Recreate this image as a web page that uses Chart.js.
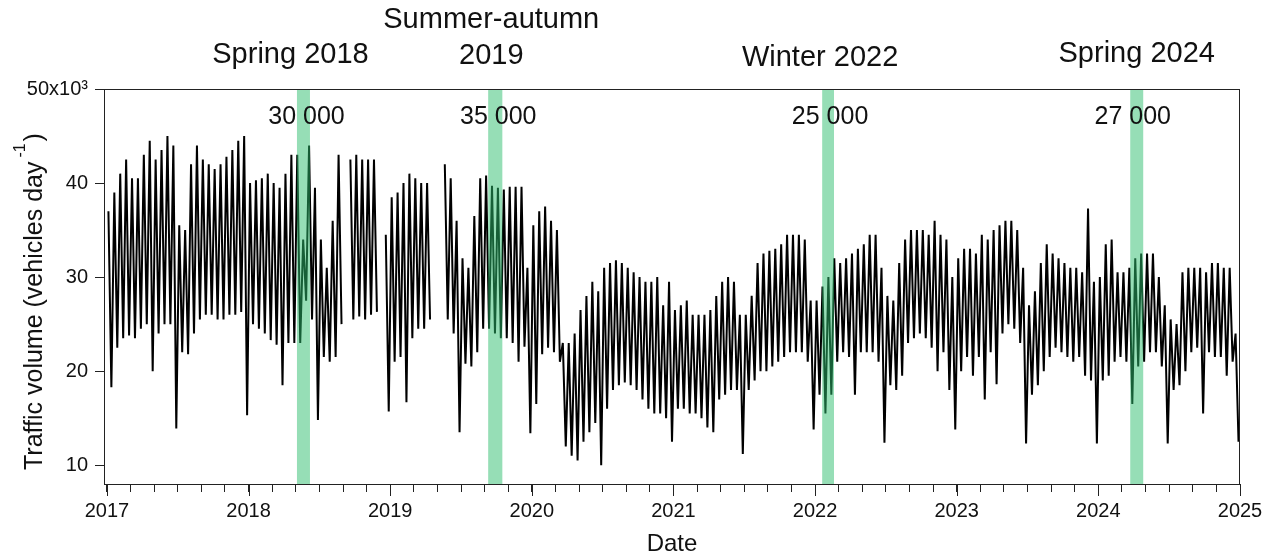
<!DOCTYPE html>
<html>
<head>
<meta charset="utf-8">
<script src="https://cdn.jsdelivr.net/npm/chart.js@4.4.1/dist/chart.umd.min.js"></script>
<style>
  html, body { margin: 0; padding: 0; background: #fff; }
</style>
</head>
<body>
<canvas id="myChart" width="1264" height="553"></canvas>
<script>
// x axis unit: months since 1 Jan 2017, one high/low pair per half-month
const startYear = 2017;
const yearTicks = [2017, 2018, 2019, 2020, 2021, 2022, 2023, 2024, 2025];

// weekday peaks and weekend/holiday dips, read per half-month (thousand vehicles/day)
const hi2017 = [37, 39, 41, 42.5, 40.5, 40.5, 43, 44.5, 42.5, 43.5, 45, 44, 35.5, 35, 42, 44, 42.5, 42, 41.5, 42, 42.8, 43.5, 44.5, 45];
const lo2017 = [18.3, 22.5, 23.5, 23.8, 23.5, 24.5, 25, 20, 24, 25, 25, 13.9, 22, 21.8, 24, 25.5, 26, 26, 25.5, 25.5, 26, 26, 26.3, 15.3];
const hi2018 = [40, 40.3, 40.5, 41, 40, 39.5, 41, 43, 43, 34, 44, 39.5, 34, 31, 36, 43, null, 42.5, 43, 42.5, 42.5, 42.5, null, 34.5];
const lo2018 = [25, 24.5, 24, 23.3, 22.8, 18.5, 23, 23, 23, 27.5, 25.5, 14.8, 21.5, 21, 21.5, 25, null, 25.5, 25.8, 25.5, 26, 26.3, null, 15.7];
const hi2019 = [38.5, 39, 40, 41, 40.5, 40, 40, null, null, 42, 40.5, 36, 32, 31, 36.5, 40.5, 40.8, 39.7, 39.5, 39.3, 39.6, 39.6, 39.6, 31];
const lo2019 = [21, 21.5, 16.7, 23.5, 24.5, 24.5, 25.5, null, null, 25.5, 24, 13.5, 20.8, 20.5, 22, 24.5, 24.5, 24, 23.5, 23.5, 23, 21, 22.6, 13.4];
const hi2020 = [35.5, 37, 37.5, 36, 35, 23, 23, 24, 26.5, 28, 29.5, 28.5, 31, 31.5, 31.8, 31.5, 31, 30.5, 30, 29.5, 29.5, 30, 27, 29.5];
const lo2020 = [16.5, 21.8, 22.5, 22, 21, 12, 11, 10.5, 12.5, 13.5, 14.5, 10, 16, 18, 18.5, 18.8, 18.5, 18, 17, 16, 15.5, 15.5, 15, 12.5];
const hi2021 = [26.5, 27, 27.5, 26, 26, 26, 26.5, 28, 29.5, 30, 29.5, 26, 26, 28, 31.5, 32.5, 32.8, 33, 33.5, 34.5, 34.5, 34.5, 34, 27.5];
const lo2021 = [16, 16, 15.5, 15.5, 15, 14, 13.5, 17, 17.5, 18, 18, 11.2, 18, 19, 20, 20, 20.5, 21, 21.5, 22, 22, 22, 21, 13.8];
const hi2022 = [27.5, 29, 30, 32, 31.5, 32, 32.5, 33, 33.5, 34.5, 34.5, 31, 28, 27.5, 31.5, 34, 35, 35, 35, 34.5, 36, 34.5, 34, 30];
const lo2022 = [17.5, 15.5, 17.5, 21, 22, 21.5, 17.5, 22, 22, 22, 21, 12.4, 18.5, 18, 19.5, 23, 23.5, 24, 23.5, 22.5, 20, 22, 18, 13.8];
const hi2023 = [32, 33, 33, 32.5, 34.5, 34, 35, 35.5, 36, 36, 35, 31, 27, 28.5, 31.5, 33.5, 32.5, 32, 31.5, 31, 31, 30.5, 37.3, 29.5];
const lo2023 = [20, 21.5, 19.5, 21.5, 17, 22, 18.6, 24, 25, 24.5, 23, 12.3, 17.5, 18.5, 20, 21.5, 22.5, 22, 21.5, 21, 21.5, 19.5, 19, 12.3];
const hi2024 = [30, 33.5, 34, 30.5, 30.5, 31, 32, 32.5, 32.5, 32.5, 30, 27, 25.5, 25, 30.5, 31, 31, 31, 30.5, 31.5, 31.5, 31, 31, 24];
const lo2024 = [19, 19.5, 21, 21.5, 21, 16.5, 20.5, 21, 22, 22, 20.5, 12.3, 18, 18.5, 20, 22, 22.5, 15.5, 22, 21.5, 21.5, 19.5, 21, 12.5];

// highlighted sampling periods (months since Jan 2017) and their mean traffic
const periodNames = [['Spring 2018'], ['Summer-autumn', '2019'], ['Winter 2022'], ['Spring 2024']];
const periodStart = [16.1, 32.3, 60.6, 86.7];
const periodEnd = [17.2, 33.5, 61.6, 87.8];
const periodTraffic = ['30 000', '35 000', '25 000', '27 000'];

const FONT = '"Liberation Sans", Arial, Helvetica, sans-serif';
Chart.defaults.font.family = FONT;

const high = [].concat(hi2017, hi2018, hi2019, hi2020, hi2021, hi2022, hi2023, hi2024);
const low = [].concat(lo2017, lo2018, lo2019, lo2020, lo2021, lo2022, lo2023, lo2024);
const traffic = [];
high.forEach((h, k) => {
    traffic.push({x: k / 2 + 0.125, y: h});
    traffic.push({x: k / 2 + 0.375, y: low[k]});
});

// label nudges in px relative to band centre
const nameShift = [-13, -4, -8, 0];
const nameBase = [[63], [28, 64], [66], [62]];
const valueShift = [3, 3, 2, -4];

const overlay = {
    id: 'overlay',
    afterDatasetsDraw(chart) {
        const {ctx, chartArea: a, scales: {x}} = chart;
        ctx.save();

        ctx.fillStyle = 'rgba(46, 190, 110, 0.5)';
        periodStart.forEach((s, i) => {
            const x0 = x.getPixelForValue(s);
            const x1 = x.getPixelForValue(periodEnd[i]);
            ctx.fillRect(x0, a.top, x1 - x0, a.bottom - a.top);
        });

        ctx.strokeStyle = '#222';
        ctx.lineWidth = 1;
        ctx.strokeRect(a.left + 0.5, a.top + 0.5, a.right - a.left - 1, a.bottom - a.top);

        // longer ticks on the years
        ctx.beginPath();
        yearTicks.forEach(yr => {
            const px = Math.round(x.getPixelForValue((yr - startYear) * 12)) + 0.5;
            ctx.moveTo(px, a.bottom);
            ctx.lineTo(px, a.bottom + 12);
        });
        ctx.stroke();

        ctx.fillStyle = '#111';
        ctx.textAlign = 'center';
        ctx.textBaseline = 'alphabetic';
        periodStart.forEach((s, i) => {
            const mid = x.getPixelForValue((s + periodEnd[i]) / 2);
            ctx.font = '29px ' + FONT;
            periodNames[i].forEach((line, j) => {
                ctx.fillText(line, mid + nameShift[i], nameBase[i][j]);
            });
            ctx.font = '25px ' + FONT;
            ctx.fillText(periodTraffic[i], mid + valueShift[i], 124);
        });

        // axis titles
        ctx.font = '24px ' + FONT;
        ctx.fillText('Date', (a.left + a.right) / 2, 551);

        ctx.translate(42, 470);
        ctx.rotate(-Math.PI / 2);
        ctx.textAlign = 'left';
        ctx.font = '25px ' + FONT;
        const main = 'Traffic volume (vehicles day';
        ctx.fillText(main, 0, 0);
        let w = ctx.measureText(main).width;
        ctx.font = '16px ' + FONT;
        ctx.fillText('-1', w + 4, -17);
        ctx.font = '25px ' + FONT;
        ctx.fillText(')', w + 20, 0);
        ctx.restore();
    }
};

const ctx = document.querySelector('#myChart').getContext('2d');
window.chart = new Chart(ctx, {
    type: 'line',
    data: {
        datasets: [{
            data: traffic,
            borderColor: '#000',
            borderWidth: 2,
            pointRadius: 0,
            tension: 0,
            spanGaps: false,
            fill: false
        }]
    },
    options: {
        responsive: false,
        animation: false,
        devicePixelRatio: 1,
        layout: {padding: {top: 89, right: 24, left: 0, bottom: 0}},
        plugins: {legend: {display: false}, tooltip: {enabled: false}},
        scales: {
            x: {
                type: 'linear',
                min: -0.25,
                max: 96,
                afterFit: s => { s.height = 69; s.paddingLeft = 0; s.paddingRight = 0; },
                border: {display: false},
                grid: {drawOnChartArea: false, tickLength: 8, color: '#222'},
                ticks: {
                    stepSize: 2,
                    includeBounds: false,
                    autoSkip: false,
                    maxRotation: 0,
                    minRotation: 0,
                    padding: 7,
                    color: '#111',
                    font: {size: 20},
                    callback: v => v % 12 === 0 ? String(startYear + v / 12) : ''
                }
            },
            y: {
                min: 8,
                max: 50,
                afterFit: s => { s.width = 104; s.paddingTop = 0; s.paddingBottom = 0; },
                border: {display: false},
                grid: {drawOnChartArea: false, tickLength: 9, color: '#222'},
                ticks: {
                    stepSize: 10,
                    includeBounds: false,
                    padding: 7,
                    color: '#111',
                    font: {size: 20},
                    callback: v => v === 50 ? '50x10³' : String(v)
                }
            }
        }
    },
    plugins: [overlay]
});
</script>
</body>
</html>
